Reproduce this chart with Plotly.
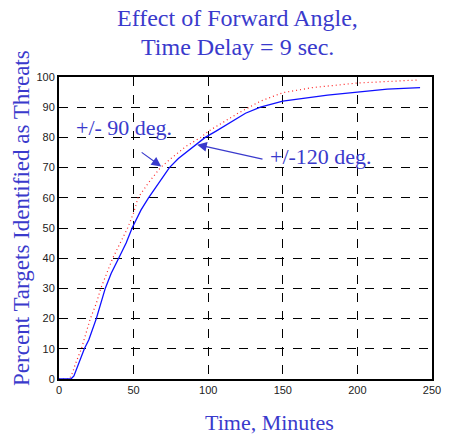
"""
Effect of forward angle on threat identification, time delay 9 s.
"""
import plotly.graph_objects as go

# +/-120 deg. curve (solid blue)
t_120 = [0, 8, 10, 13, 17, 20, 25, 31, 35, 40, 45, 49, 55, 60, 67, 74, 80, 90,
         98, 105, 115, 125, 135, 150, 165, 180, 200, 220, 242]
pct_120 = [0, 0, 1, 5, 10, 13, 20, 30, 35, 40, 45, 50, 56, 60, 65, 70, 73, 77,
           80, 82, 85, 88, 90, 92, 93, 94, 95, 96, 96.5]

# +/- 90 deg. curve (dotted red)
t_90 = [0, 7, 9, 11, 15, 18, 21, 25, 28, 32, 36, 41, 46, 50, 53, 60, 68, 75,
        85, 95, 100, 110, 120, 135, 150, 170, 190, 200, 220, 240]
pct_90 = [0, 0, 2, 5, 10, 15, 20, 25, 30, 35, 40, 45, 50, 55, 60, 65, 70, 73,
          77, 80, 82, 85, 88, 92, 94.8, 96.5, 97.5, 98, 98.5, 99]

x_ticks = [0, 50, 100, 150, 200, 250]
y_ticks = list(range(0, 101, 10))

TEXT_BLUE = '#3a3acc'
SERIF = 'Liberation Serif, Times New Roman, serif'

# plot area in pixels (left, right, top, bottom)
PL, PR, PT, PB = 59, 441, 77, 379


def px_x(px):
    return (px - PL) / (PR - PL)


def px_y(py):
    return (PB - py) / (PB - PT)


fig = go.Figure()

fig.add_trace(go.Scatter(
    x=t_90, y=pct_90, mode='lines', name='+/- 90 deg.',
    line=dict(color='#ff2020', width=1.2, dash='1px,3px'),
))
fig.add_trace(go.Scatter(
    x=t_120, y=pct_120, mode='lines', name='+/-120 deg.',
    line=dict(color='#1010ff', width=1.3),
))

axis_style = dict(
    showgrid=True, gridcolor='black', gridwidth=1, griddash='dash',
    showline=True, linecolor='black', linewidth=2, mirror=True,
    ticks='', zeroline=False,
    tickfont=dict(family='Liberation Sans, Arial, sans-serif', size=11, color='#222'),
)

fig.update_xaxes(range=[0, 250], tickvals=x_ticks, **axis_style)
fig.update_yaxes(range=[0, 100], tickvals=y_ticks, **axis_style)

serif_font = dict(family=SERIF, size=22, color=TEXT_BLUE)
title_font = dict(family=SERIF, size=24, color=TEXT_BLUE)

annotations = [
    # title
    dict(text='Effect of Forward Angle,', xref='paper', yref='paper',
         x=px_x(242), y=px_y(18), xanchor='center', yanchor='middle',
         showarrow=False, font=title_font),
    dict(text='Time Delay = 9 sec.', xref='paper', yref='paper',
         x=px_x(242), y=px_y(47), xanchor='center', yanchor='middle',
         showarrow=False, font=title_font),
    # axis titles
    dict(text='Time, Minutes', xref='paper', yref='paper', x=px_x(275),
         y=px_y(422), xanchor='center', yanchor='middle', showarrow=False,
         font=serif_font),
    dict(text='Percent Targets Identified as Threats', xref='paper', yref='paper',
         x=px_x(20), y=px_y(218), xanchor='center', yanchor='middle',
         textangle=-90, showarrow=False,
         font=dict(family=SERIF, size=23, color=TEXT_BLUE)),
    # curve labels
    dict(text='+/- 90 deg.', x=43.4, y=83.2, xref='x', yref='y', showarrow=False,
         font=serif_font),
    dict(text='+/-120 deg.', x=175.6, y=73.8, xref='x', yref='y', showarrow=False,
         font=serif_font),
    # arrows
    dict(text='', x=68.5, y=70.4, ax=54.4, ay=75.4, xref='x', yref='y',
         axref='x', ayref='y', showarrow=True, arrowhead=2, arrowsize=1.6,
         arrowwidth=1.2, arrowcolor=TEXT_BLUE),
    dict(text='', x=92.6, y=77.6, ax=137.4, ay=72.7, xref='x', yref='y',
         axref='x', ayref='y', showarrow=True, arrowhead=2, arrowsize=1.6,
         arrowwidth=1.2, arrowcolor=TEXT_BLUE),
]

fig.update_layout(
    width=451, height=434,
    margin=dict(l=PL, r=451 - PR, t=PT, b=434 - PB),
    paper_bgcolor='white', plot_bgcolor='white',
    showlegend=False,
    annotations=annotations,
)

# drop the default page margin so the figure sits at the window's corner
post = "document.body.style.margin='0';"

fig.write_html("out.html", config={'responsive': False, 'displayModeBar': False},
               post_script=post)
